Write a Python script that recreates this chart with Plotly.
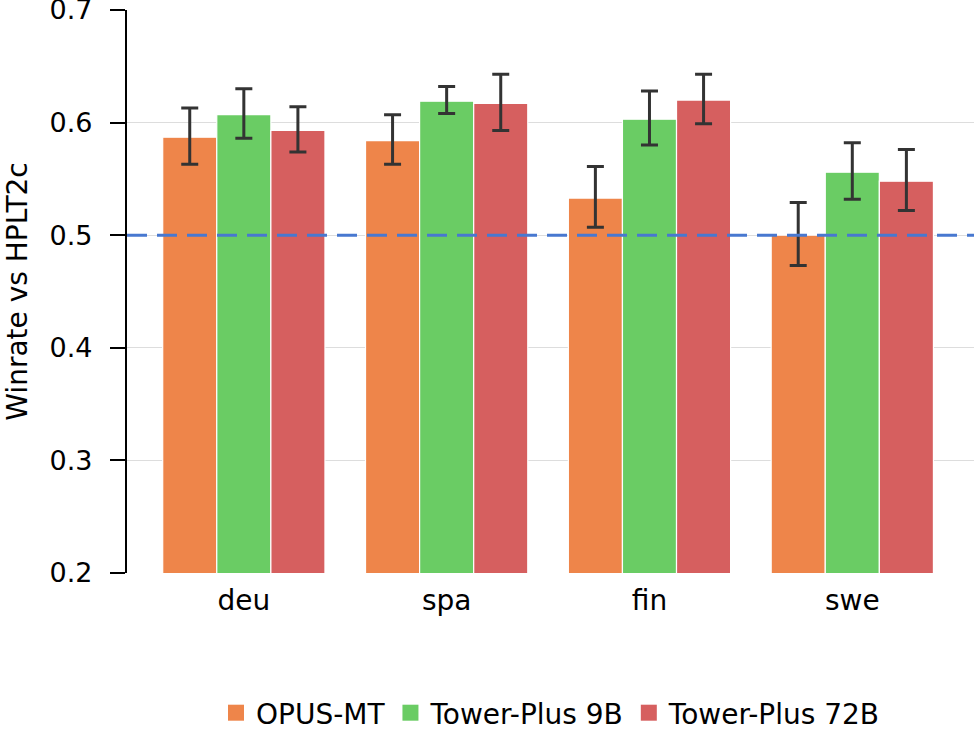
import plotly.graph_objects as go

categories = ["deu", "spa", "fin", "swe"]
series_names = ["OPUS-MT", "Tower-Plus 9B", "Tower-Plus 72B"]
opus_vals = [0.587, 0.584, 0.533, 0.500]
opus_hi = [0.613, 0.607, 0.561, 0.529]
opus_lo = [0.563, 0.563, 0.507, 0.473]
t9_vals = [0.607, 0.619, 0.603, 0.556]
t9_hi = [0.630, 0.632, 0.628, 0.582]
t9_lo = [0.586, 0.608, 0.580, 0.532]
t72_vals = [0.593, 0.617, 0.620, 0.548]
t72_hi = [0.614, 0.643, 0.643, 0.576]
t72_lo = [0.574, 0.593, 0.599, 0.522]
colors = ["#EE854A", "#6ACC64", "#D65F5F"]
baseline = 0.5
y_ticks = [0.2, 0.3, 0.4, 0.5, 0.6, 0.7]

fig = go.Figure()
for name, vals, hi, lo, c in zip(series_names,
                                 [opus_vals, t9_vals, t72_vals],
                                 [opus_hi, t9_hi, t72_hi],
                                 [opus_lo, t9_lo, t72_lo], colors):
    fig.add_trace(go.Bar(
        x=categories, y=vals, name=name, showlegend=False,
        marker=dict(color=c, line=dict(color="white", width=1.2)),
        error_y=dict(type="data", symmetric=False,
                     array=[h - v for h, v in zip(hi, vals)],
                     arrayminus=[v - l for l, v in zip(lo, vals)],
                     color="#333333", thickness=3, width=8.5),
    ))

# legend entries (square swatches)
for name, c in zip(series_names, colors):
    fig.add_trace(go.Scatter(
        x=[None], y=[None], mode="markers", name=name,
        marker=dict(symbol="square", size=20, color=c),
        showlegend=True, hoverinfo="skip",
    ))

fig.add_shape(type="line", xref="paper", yref="y", x0=0, x1=1,
              y0=baseline, y1=baseline,
              line=dict(color="#4878D0", width=3, dash="20px,10px"))

font = "DejaVu Sans, sans-serif"
fig.update_layout(
    width=974, height=730,
    margin=dict(l=127, r=0, t=10, b=157, autoexpand=False),
    paper_bgcolor="white", plot_bgcolor="white",
    barmode="group", bargap=0.2, bargroupgap=0,
    font=dict(family=font, size=28, color="black"),
    showlegend=True,
    legend=dict(orientation="h", x=0.5, xanchor="center",
                yref="container", y=1 - 713 / 730, yanchor="middle",
                font=dict(size=28), itemwidth=30, tracegroupgap=0,
                traceorder="normal", itemsizing="trace"),
    xaxis=dict(range=[-0.576, 3.6], showgrid=False, zeroline=False,
               showline=False, ticks="", ticklabelstandoff=8,
               automargin=False, tickfont=dict(size=28)),
    yaxis=dict(range=[0.2, 0.7], tickvals=y_ticks,
               ticktext=[f"{v:.1f}" for v in y_ticks],
               showgrid=True, gridcolor="#DDDDDD", gridwidth=1.3,
               zeroline=False, showline=True, linecolor="black", linewidth=2.2,
               ticks="outside", ticklen=15, tickwidth=2.2, tickcolor="black",
               ticklabelstandoff=12, ticklabeloverflow="allow",
               automargin=False,
               title=dict(text="Winrate vs HPLT2c", standoff=14,
                          font=dict(size=28)),
               tickfont=dict(size=27)),
)

fig.write_html("out.html")
